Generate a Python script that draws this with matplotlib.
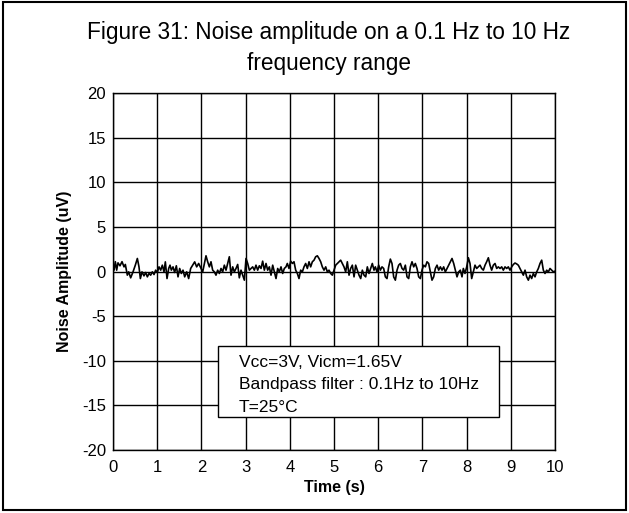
import matplotlib
matplotlib.use('Agg')
import matplotlib.pyplot as plt
import matplotlib.patches as patches

plt.rcParams['font.family'] = ['Liberation Sans', 'DejaVu Sans']
plt.rcParams['axes.unicode_minus'] = False

# noise trace (time in s, amplitude in uV)
time_s = [
    0.00, 0.023, 0.053, 0.083, 0.113, 0.158, 0.204, 0.249, 0.279, 0.324, 0.355, 0.400, 0.453, 0.505,
    0.551, 0.588, 0.619, 0.656, 0.701, 0.739, 0.777, 0.815, 0.852, 0.890, 0.928, 0.965, 1.003,
    1.041, 1.079, 1.116, 1.154, 1.184, 1.222, 1.260, 1.290, 1.320, 1.358, 1.395, 1.433, 1.471,
    1.508, 1.546, 1.584, 1.622, 1.667, 1.712, 1.757, 1.803, 1.848, 1.893, 1.938,
    1.991, 2.029, 2.067, 2.104, 2.142, 2.180, 2.217, 2.255, 2.293, 2.330, 2.368, 2.406, 2.444,
    2.481, 2.519, 2.557, 2.594, 2.632, 2.670, 2.708, 2.745, 2.783, 2.821, 2.858, 2.896, 2.934,
    2.972, 3.009, 3.047, 3.085, 3.122, 3.160, 3.198, 3.235, 3.273, 3.311, 3.349, 3.386, 3.424,
    3.462, 3.499, 3.537, 3.575, 3.613, 3.650, 3.688, 3.726, 3.763, 3.801, 3.839, 3.876, 3.914,
    3.944, 3.982, 4.020, 4.058, 4.095, 4.133, 4.171, 4.208, 4.246, 4.284, 4.321, 4.359, 4.397,
    4.435, 4.472, 4.510, 4.548, 4.585, 4.623, 4.661, 4.699, 4.736, 4.774, 4.812, 4.849, 4.887,
    4.925, 4.963, 5.000, 5.038, 5.076, 5.113, 5.151, 5.189, 5.226, 5.264, 5.302, 5.340, 5.377,
    5.415, 5.453, 5.490, 5.528, 5.566, 5.604, 5.641, 5.679, 5.717, 5.754, 5.792, 5.830, 5.867,
    5.905, 5.935, 5.973, 6.011, 6.049, 6.086, 6.124, 6.162, 6.199, 6.237, 6.275, 6.312, 6.350,
    6.388, 6.426, 6.463, 6.501, 6.539, 6.576, 6.614, 6.652, 6.690, 6.727, 6.765, 6.803, 6.840,
    6.878, 6.916, 6.954, 6.991, 7.029, 7.067, 7.104, 7.142, 7.180, 7.217, 7.255, 7.293, 7.331,
    7.368, 7.406, 7.444, 7.481, 7.519, 7.557, 7.594, 7.632, 7.670, 7.708, 7.745, 7.783, 7.821,
    7.858, 7.896, 7.926, 7.964, 8.002, 8.040, 8.077, 8.115, 8.153, 8.190, 8.228, 8.266, 8.303,
    8.341, 8.379, 8.417, 8.454, 8.492, 8.530, 8.567, 8.605, 8.643, 8.681, 8.718, 8.756, 8.794,
    8.831, 8.869, 8.907, 8.944, 8.982, 9.020, 9.058, 9.095, 9.133, 9.171, 9.208, 9.246, 9.284,
    9.322, 9.359, 9.397, 9.435, 9.472, 9.510, 9.548, 9.586, 9.623, 9.661, 9.699, 9.736, 9.774,
    9.812, 9.850, 9.887, 9.925, 9.963, 10.00,
]
noise_uv = [
    0.40, 0.15, 1.10, 0.15, 0.97, 0.64, 1.10, 0.52, 0.79, -0.41, -0.04, -0.71, -0.04, 0.71,
    1.46, 0.52, -0.79, -0.04, -0.49, -0.11, -0.60, -0.22, -0.41, -0.04, -0.34, 0.15, -0.11,
    0.52, 0.15, 0.71, -0.04, 1.08, -0.79, 0.34, 0.71, 0.15, 0.52, -0.11, 0.64, -0.60,
    0.34, -0.22, 0.15, -0.60, -0.04, -0.79, 0.34, 0.71, 1.08, 0.52, 0.90,
    0.34, -0.04, 0.90, 1.76, 1.09, 0.52, 1.09, 0.15, -0.04, -0.41, 0.15, -0.22, 0.34,
    -0.04, 0.71, 0.15, 0.90, 1.65, -0.41, 0.52, -0.04, 0.34, 0.79, -0.71, 0.15, -0.41,
    -0.97, 1.46, 0.90, 0.15, 0.34, 0.52, 0.15, 0.71, 0.15, 0.64, 0.34, 1.16, 0.15,
    0.90, 0.15, 0.52, -0.41, 0.71, -0.04, -0.79, 0.34, -0.04, 0.52, -0.22, 0.34, 0.52,
    0.90, 0.34, 1.16, 0.90, 1.09, 0.15, -0.22, -0.79, 0.15, -0.04, 0.52, 0.90, 0.34,
    1.09, 0.52, 1.09, 1.27, 1.65, 1.76, 1.46, 1.09, 0.52, 0.15, 0.52, -0.04, 0.15,
    -0.22, -0.41, 0.15, 0.71, 0.90, 1.09, 1.27, 0.90, 0.52, -0.04, 1.09, -0.41, 0.34,
    0.71, -0.60, 0.71, 0.15, -0.41, -0.79, 0.15, -0.41, -0.60, 0.52, -0.22, 0.34, 0.90,
    0.15, 0.52, -0.04, 0.71, 0.15, 0.52, 0.34, -0.60, -0.79, 0.52, 1.39, 0.90, -0.60,
    -0.97, 0.15, 0.71, 0.90, 0.34, 0.15, 0.71, -0.60, -0.79, 0.52, 1.09, 0.52, 0.90,
    0.34, -0.60, -0.79, 0.15, 0.71, 0.52, 1.09, 0.90, -0.04, -0.97, -0.60, 0.34, 0.71,
    0.15, 0.52, 0.15, 0.52, -0.04, 0.34, 0.71, 1.09, 1.46, 0.90, 0.15, -0.60, -0.04,
    0.15, -0.60, 0.34, -0.22, 0.52, 1.54, 0.90, -0.79, -0.04, 0.71, 0.34, 0.52, 0.71,
    0.34, 0.15, 0.71, 1.09, 1.54, 0.71, 0.15, 0.71, 0.90, 0.34, 0.52, 0.34, 0.52,
    0.15, 0.52, 0.34, 0.52, 0.15, 0.52, 0.79, 0.95, 0.85, 0.70, 0.34, -0.04, -0.41,
    0.15, -0.60, -0.97, -0.41, -0.79, -0.22, -0.60, -0.04, 0.34, 0.90, 1.27, 0.15, -0.22,
    0.15, -0.04, 0.34, 0.15, -0.04, 0.04,
]

x_ticks = list(range(0, 11))
y_ticks = [20, 15, 10, 5, 0, -5, -10, -15, -20]
notes = ['Vcc=3V, Vicm=1.65V', 'Bandpass filter : 0.1Hz to 10Hz', 'T=25°C']

fig = plt.figure(figsize=(6.29, 5.13), dpi=100)
ax = fig.add_axes([113 / 629, 63 / 513, 442 / 629, 357 / 513])

# frame around the whole figure
fig.patches.append(patches.Rectangle((0.004, 0.006), 0.992, 0.99, transform=fig.transFigure,
                                     fill=False, edgecolor='black', linewidth=1.5))

fig.text(0.523, 0.960, 'Figure 31: Noise amplitude on a 0.1 Hz to 10 Hz\nfrequency range',
         ha='center', va='top', fontsize=16.3, linespacing=1.45)

ax.plot(time_s, noise_uv, color='black', linewidth=1.2, zorder=3)

ax.set_xlim(0, 10)
ax.set_ylim(-20, 20)
ax.set_xticks(x_ticks)
ax.set_yticks(y_ticks)
ax.grid(True, color='black', linewidth=1.0)
ax.set_axisbelow(True)
ax.tick_params(length=0, labelsize=12)
ax.tick_params(axis='x', pad=7)
ax.tick_params(axis='y', pad=5)
for s in ax.spines.values():
    s.set_linewidth(1.0)

ax.set_xlabel('Time (s)', fontsize=11.5, fontweight='bold', labelpad=4)
ax.set_ylabel('Noise Amplitude (uV)', fontsize=11.5, fontweight='bold', labelpad=7)

# annotation box with test conditions
ax.add_patch(patches.Rectangle((2.37, -16.3), 6.37, 8.0, facecolor='white',
                               edgecolor='black', linewidth=1.0, zorder=4))
for i, line in enumerate(notes):
    ax.text(2.85, -10.2 - 2.5 * i, line, fontsize=12.5, va='center', ha='left', zorder=5)

fig.savefig('out.png', dpi=100)
